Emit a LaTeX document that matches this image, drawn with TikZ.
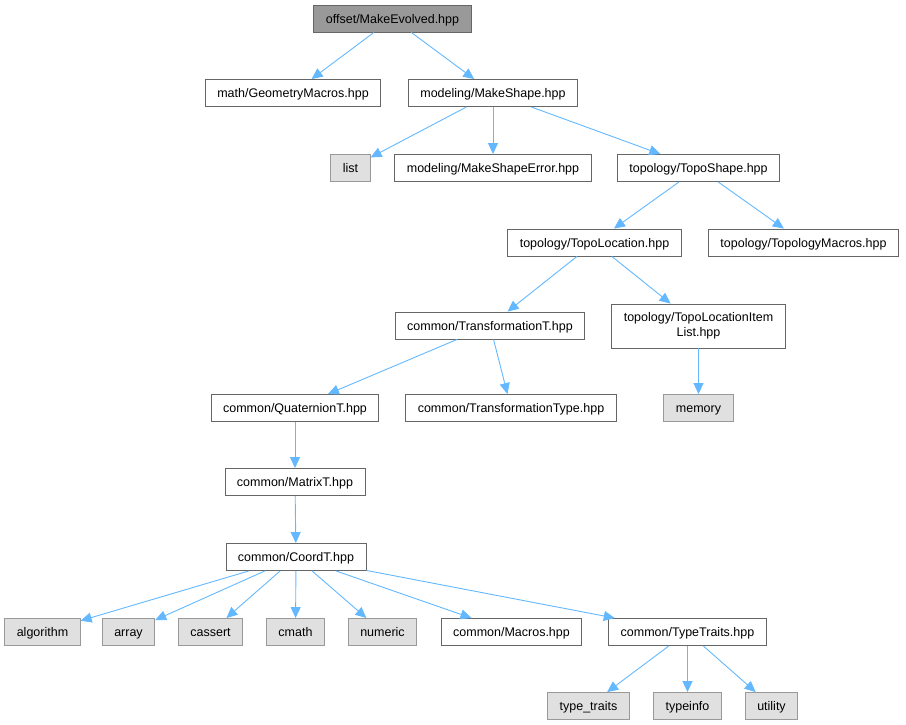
\documentclass[tikz,border=0pt]{standalone}
\usepackage{fontspec}
\setmainfont{Liberation Sans}
\usetikzlibrary{arrows.meta}
\definecolor{edgeblue}{HTML}{63B8FF}
\definecolor{boxline}{HTML}{666666}
\definecolor{sysline}{HTML}{999999}
\definecolor{sysfill}{HTML}{E0E0E0}
\definecolor{rootfill}{HTML}{999999}
\begin{document}
\begin{tikzpicture}[x=1pt,y=-1pt,
    font=\fontsize{12.5}{14.5}\selectfont,
    hdr/.style={draw=boxline,fill=white,line width=0.9pt,inner xsep=12pt,
      inner ysep=0pt,text height=9.5pt,text depth=0pt,minimum height=27pt},
    sys/.style={hdr,draw=sysline,fill=sysfill},
    root/.style={hdr,fill=rootfill},
    dep/.style={edgeblue,line width=0.9pt,-{Triangle[length=11pt,width=10pt]}}]
      \useasboundingbox (0,0) rectangle (906,725) ;
      \node[root] (ME) at (392.5,18.5) {offset/MakeEvolved.hpp} ;
      \node[hdr] (GM) at (293,93) {math/GeometryMacros.hpp} ;
      \node[hdr] (MS) at (493,93) {modeling/MakeShape.hpp} ;
      \node[sys] (L) at (350.5,168) {list} ;
      \node[hdr] (MSE) at (493,168) {modeling/MakeShapeError.hpp} ;
      \node[hdr] (TS) at (698.5,168) {topology/TopoShape.hpp} ;
      \node[hdr] (TL) at (594.5,242.5) {topology/TopoLocation.hpp} ;
      \node[hdr] (TM) at (803.5,242.5) {topology/TopologyMacros.hpp} ;
      \node[hdr] (TT) at (490,325.5) {common/TransformationT.hpp} ;
      \node[hdr,text height=,text depth=,align=center,minimum height=44pt] %
      (TLI) at (698.5,326) {topology/TopoLocationItem\\List.hpp} ;
      \node[hdr] (QT) at (295,408) {common/QuaternionT.hpp} ;
      \node[hdr] (TTy) at (511,408) {common/TransformationType.hpp} ;
      \node[sys] (Mem) at (698.5,408) {memory} ;
      \node[hdr] (MT) at (295,482) {common/MatrixT.hpp} ;
      \node[hdr] (CT) at (296,557) {common/CoordT.hpp} ;
      \node[sys] (Alg) at (42.5,632) {algorithm} ;
      \node[sys] (Arr) at (128.5,632) {array} ;
      \node[sys] (Cas) at (210.5,632) {cassert} ;
      \node[sys] (Cm) at (295.5,632) {cmath} ;
      \node[sys] (Num) at (382.5,632) {numeric} ;
      \node[hdr] (Mac) at (511.5,632) {common/Macros.hpp} ;
      \node[hdr] (TyT) at (687.5,632) {common/TypeTraits.hpp} ;
      \node[sys] (TyTr) at (588.5,706) {type\_traits} ;
      \node[sys] (TyI) at (687.5,706) {typeinfo} ;
      \node[sys] (Ut) at (771.5,706) {utility} ;
      \draw[dep] (ME) -- (GM) ;
      \draw[dep] (ME) -- (MS) ;
      \draw[dep] (MS) -- (L) ;
      \draw[dep] (MS) -- (MSE) ;
      \draw[dep] (MS) -- (TS) ;
      \draw[dep] (TS) -- (TL) ;
      \draw[dep] (TS) -- (TM) ;
      \draw[dep] (TL) -- (TT) ;
      \draw[dep] (TL) -- (TLI) ;
      \draw[dep] (TLI) -- (Mem) ;
      \draw[dep] (TT) -- (QT) ;
      \draw[dep] (TT) -- (TTy) ;
      \draw[dep] (QT) -- (MT) ;
      \draw[dep] (MT) -- (CT) ;
      \draw[dep] (CT) -- (Alg) ;
      \draw[dep] (CT) -- (Arr) ;
      \draw[dep] (CT) -- (Cas) ;
      \draw[dep] (CT) -- (Cm) ;
      \draw[dep] (CT) -- (Num) ;
      \draw[dep] (CT) -- (Mac) ;
      \draw[dep] (CT) -- (TyT) ;
      \draw[dep] (TyT) -- (TyTr) ;
      \draw[dep] (TyT) -- (TyI) ;
      \draw[dep] (TyT) -- (Ut) ;
    \end{tikzpicture}
\end{document}
